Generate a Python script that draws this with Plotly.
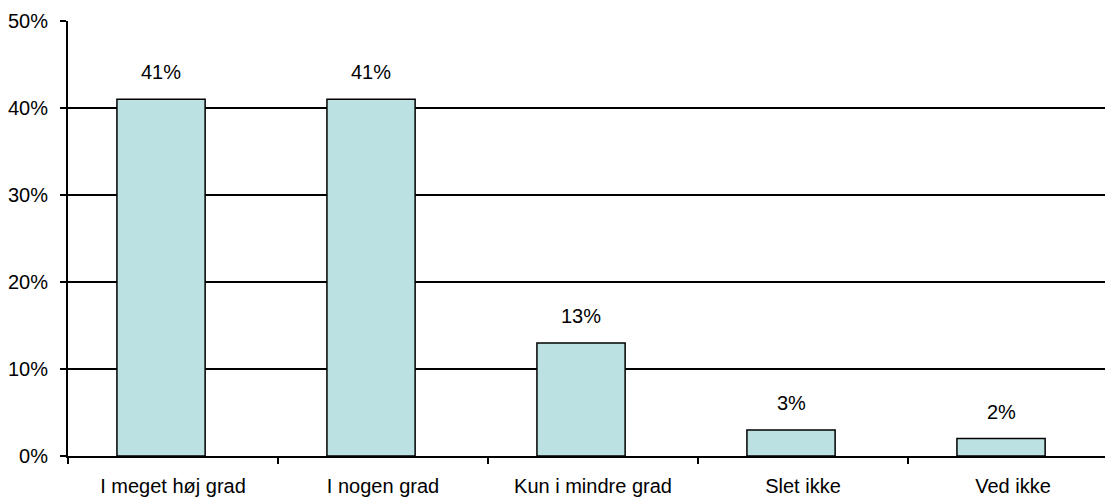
import plotly.graph_objects as go

categories = ["I meget høj grad", "I nogen grad", "Kun i mindre grad", "Slet ikke", "Ved ikke"]
values = [0.41, 0.41, 0.13, 0.03, 0.02]
value_labels = ["41%", "41%", "13%", "3%", "2%"]

FONT = "Liberation Sans, Arial, sans-serif"
FS = 20
BAR_W = 0.42
BAR_OFF = -0.267

fig = go.Figure()
fig.add_trace(go.Bar(
    x=categories, y=values,
    width=BAR_W, offset=BAR_OFF,
    marker=dict(color="#BCE1E3", line=dict(color="black", width=1.5)),
    hoverinfo="skip",
))

for c, v, t in zip(categories, values, value_labels):
    fig.add_annotation(
        x=c, y=v, text=t, showarrow=False,
        xanchor="center", yanchor="bottom",
        xshift=(BAR_OFF + BAR_W / 2) * 210, yshift=14,
        font=dict(family=FONT, size=FS, color="black"),
    )

# page body has an 8px default margin; size the figure to fit the 1113x497 window
fig.update_layout(
    width=1105, height=489,
    margin=dict(l=60, r=0, t=13, b=41),
    paper_bgcolor="white", plot_bgcolor="white",
    showlegend=False,
    font=dict(family=FONT, size=FS, color="black"),
)
fig.update_xaxes(
    type="category",
    range=[-0.5, -0.5 + 1045 / 210],
    showline=True, linecolor="black", linewidth=2,
    ticks="outside", tickson="boundaries", ticklen=6, tickwidth=2, tickcolor="black",
    showgrid=False,
    ticklabelstandoff=11,
    tickfont=dict(family=FONT, size=FS, color="black"),
)
fig.update_yaxes(
    range=[0, 0.5], dtick=0.1, tickformat=".0%",
    showline=True, linecolor="black", linewidth=2,
    ticks="outside", ticklen=6, tickwidth=2, tickcolor="black",
    showgrid=True, gridcolor="black", gridwidth=1.5,
    zeroline=False,
    ticklabelstandoff=8,
    tickfont=dict(family=FONT, size=FS, color="black"),
)

fig.write_html("out.html")
